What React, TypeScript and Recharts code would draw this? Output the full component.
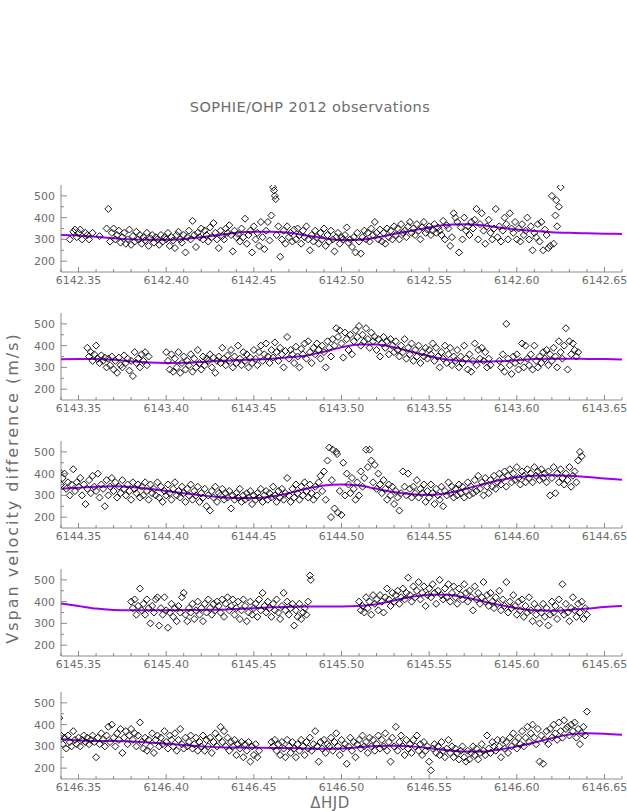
import React from "react";
import { ComposedChart, Scatter, Line, XAxis, YAxis } from "recharts";

const FONT = "'DejaVu Sans', sans-serif";
const GREY = "#6e6e6e";
const PURPLE = "#9a00f2";

// nights (integer part of HJD - 2450000)
const nights = [6142, 6143, 6144, 6145, 6146];

// observations: [thousandths of a day after the night's integer HJD, Vspan (m/s)]
const obs6142 = [[345,300],[347,335],[348,345],[349,310],[350,330],[351,345],[352,300],[354,330],[355,320],[356,300],[358,330],[362,315],[366,350],[367,440],[368,290],[369,330],[370,350],[371,300],[372,320],[373,340],[374,285],[375,310],[376,330],[377,280],[378,300],[379,345],[380,275],[381,315],[382,290],[383,335],[384,300],[385,320],[386,280],[387,310],[388,295],[389,330],[390,270],[391,305],[392,320],[393,285],[394,310],[395,300],[396,275],[397,320],[398,290],[399,310],[400,300],[401,330],[402,270],[403,310],[404,295],[405,260],[406,320],[407,335],[408,300],[409,285],[410,320],[411,240],[412,310],[413,340],[414,300],[415,385],[416,320],[417,265],[418,330],[419,310],[420,350],[421,300],[422,340],[423,320],[424,290],[425,355],[426,310],[427,375],[428,330],[429,300],[430,260],[431,340],[432,315],[433,300],[434,350],[435,330],[436,365],[437,320],[438,245],[439,340],[440,310],[441,325],[442,290],[443,350],[444,310],[445,395],[446,280],[447,320],[448,340],[449,240],[450,360],[451,300],[452,330],[453,270],[454,380],[455,310],[456,255],[457,340],[458,380],[459,295],[460,410],[461,540],[461.5,525],[462,500],[462.5,485],[463,320],[464,360],[465,220],[466,300],[467,340],[468,280],[469,360],[470,310],[471,330],[472,290],[473,345],[474,300],[475,350],[476,320],[477,280],[478,340],[479,310],[480,360],[481,300],[482,250],[483,320],[484,290],[485,340],[486,310],[487,280],[488,330],[489,300],[490,350],[491,270],[492,320],[493,290],[494,340],[495,300],[496,245],[497,310],[498,330],[499,280],[500,310],[501,300],[502,320],[503,355],[504,285],[505,300],[506,265],[507,310],[508,240],[509,330],[510,290],[511,235],[512,310],[513,340],[514,300],[515,330],[516,290],[517,350],[518,320],[519,380],[520,330],[521,300],[522,345],[523,290],[524,330],[525,280],[526,350],[527,310],[528,340],[529,300],[530,360],[531,320],[532,350],[533,300],[534,370],[535,330],[536,340],[537,310],[538,360],[539,380],[540,330],[541,350],[542,320],[543,370],[544,340],[545,300],[546,355],[547,380],[548,330],[549,345],[550,360],[551,320],[552,340],[553,370],[554,330],[555,355],[556,340],[557,320],[558,385],[559,300],[560,365],[561,350],[562,270],[563,310],[564,420],[565,400],[566,380],[567,240],[568,355],[569,300],[570,400],[571,340],[572,360],[573,320],[574,380],[575,350],[576,390],[577,440],[578,300],[579,370],[580,420],[581,340],[582,280],[583,360],[584,390],[585,330],[586,300],[587,350],[588,440],[589,310],[590,360],[591,290],[592,340],[593,400],[594,370],[595,300],[596,420],[597,350],[598,330],[599,380],[600,300],[601,350],[602,290],[603,370],[604,320],[605,340],[606,400],[607,300],[608,360],[609,250],[610,330],[611,310],[612,370],[613,290],[614,380],[615,250],[616,345],[617,320],[618,260],[619,270],[620,500],[621,280],[622,410],[622.5,480],[623,360],[624,450],[625,540]];

const obs6143 = [[355,390],[356,350],[357,370],[358,330],[359,360],[360,400],[361,340],[362,320],[363,355],[364,330],[365,345],[366,300],[367,340],[368,310],[369,350],[370,290],[371,330],[372,275],[373,345],[374,310],[375,300],[376,355],[377,320],[378,340],[379,285],[380,330],[381,260],[382,370],[383,320],[384,340],[385,300],[386,360],[387,330],[388,370],[389,310],[390,350],[400,370],[401,330],[402,290],[403,360],[404,280],[405,340],[406,300],[407,370],[408,275],[409,320],[410,350],[411,290],[412,330],[413,310],[414,360],[415,280],[416,340],[417,300],[418,380],[419,320],[420,290],[421,350],[422,310],[423,340],[424,330],[425,360],[426,300],[427,345],[428,275],[429,330],[430,350],[431,320],[432,390],[433,340],[434,310],[435,355],[436,330],[437,380],[438,300],[439,350],[440,320],[441,400],[442,340],[443,310],[444,370],[445,330],[446,360],[447,300],[448,345],[449,320],[450,380],[451,340],[452,310],[453,370],[454,400],[455,330],[456,360],[457,410],[458,350],[459,320],[460,380],[461,345],[462,415],[463,370],[464,330],[465,390],[466,360],[467,300],[468,375],[469,440],[470,340],[471,380],[472,360],[473,320],[474,395],[475,350],[476,300],[477,385],[478,360],[479,410],[480,340],[481,420],[482,370],[483,320],[484,390],[485,360],[486,410],[487,380],[488,340],[489,400],[490,370],[491,300],[492,420],[493,390],[494,350],[495,430],[496,400],[497,480],[498,440],[499,470],[500,410],[501,345],[502,460],[503,430],[504,380],[505,450],[506,360],[507,420],[508,470],[509,440],[510,490],[511,400],[512,450],[513,420],[514,480],[515,430],[516,390],[517,460],[518,420],[519,440],[520,380],[521,430],[522,350],[523,410],[524,440],[525,390],[526,420],[527,360],[528,430],[529,400],[530,370],[531,420],[532,380],[533,350],[534,400],[535,370],[536,430],[537,340],[538,390],[539,360],[540,410],[541,330],[542,380],[543,350],[544,400],[545,320],[546,370],[547,350],[548,390],[549,340],[550,380],[551,360],[552,410],[553,330],[554,390],[555,350],[556,300],[557,370],[558,340],[559,400],[560,320],[561,360],[562,390],[563,310],[564,350],[565,330],[566,380],[567,300],[568,350],[569,320],[570,400],[571,340],[572,290],[573,360],[574,280],[575,330],[576,410],[577,310],[578,380],[579,340],[580,390],[581,330],[582,370],[583,300],[584,340],[585,310],[590,330],[591,300],[592,360],[593,280],[594,500],[595,340],[596,310],[597,270],[598,350],[599,320],[600,360],[601,290],[602,330],[603,410],[604,300],[605,400],[606,340],[607,310],[608,360],[609,290],[610,400],[611,330],[612,300],[613,350],[614,320],[615,370],[616,340],[617,380],[618,310],[619,360],[620,330],[621,390],[622,350],[623,300],[624,420],[625,370],[626,340],[627,400],[628,480],[629,290],[630,420],[631,360],[632,410],[633,380],[634,350],[635,370]];

const obs6144 = [[337,390],[338,360],[339,410],[340,350],[341,380],[342,400],[343,330],[344,360],[345,300],[346,350],[347,420],[348,320],[349,360],[350,340],[351,380],[352,300],[353,350],[354,260],[355,330],[356,370],[357,310],[358,390],[359,340],[360,320],[361,400],[362,290],[363,350],[364,330],[365,250],[366,370],[367,300],[368,340],[369,380],[370,320],[371,360],[372,290],[373,340],[374,310],[375,370],[376,330],[377,300],[378,350],[379,320],[380,280],[381,360],[382,330],[383,310],[384,350],[385,290],[386,340],[387,300],[388,360],[389,320],[390,280],[391,350],[392,310],[393,330],[394,300],[395,360],[396,290],[397,340],[398,270],[399,320],[400,300],[401,350],[402,310],[403,280],[404,330],[405,360],[406,300],[407,320],[408,290],[409,340],[410,310],[411,270],[412,330],[413,300],[414,350],[415,280],[416,320],[417,300],[418,340],[419,270],[420,310],[421,290],[422,330],[423,250],[424,300],[425,230],[426,320],[427,290],[428,340],[429,270],[430,310],[431,300],[432,330],[433,280],[434,310],[435,290],[436,320],[437,240],[438,300],[439,280],[440,310],[441,290],[442,330],[443,270],[444,300],[445,280],[446,310],[447,290],[448,320],[449,260],[450,300],[451,280],[452,310],[453,290],[454,330],[455,270],[456,300],[457,320],[458,280],[459,310],[460,290],[461,340],[462,300],[463,270],[464,320],[465,290],[466,330],[467,280],[468,310],[469,380],[470,300],[471,270],[472,330],[473,290],[474,350],[475,310],[476,280],[477,340],[478,300],[479,360],[480,320],[481,290],[482,350],[483,310],[484,280],[485,340],[486,300],[487,360],[488,390],[489,320],[490,410],[491,280],[492,460],[493,520],[494,200],[494.5,370],[495,510],[496,240],[497,500],[497.5,490],[498,220],[499,320],[500,210],[501,450],[502,300],[503,400],[504,350],[505,310],[506,380],[507,330],[508,280],[509,360],[510,300],[511,410],[512,340],[513,380],[514,510],[515,430],[516,510],[517,460],[518,360],[519,440],[520,330],[521,400],[522,350],[523,310],[524,370],[525,330],[526,280],[527,350],[528,300],[529,340],[530,260],[531,320],[532,290],[533,230],[534,310],[535,410],[536,340],[537,300],[538,400],[539,330],[540,290],[541,340],[542,310],[543,370],[544,290],[545,330],[546,310],[547,350],[548,270],[549,320],[550,290],[551,350],[552,310],[553,260],[554,330],[555,300],[556,280],[557,340],[558,250],[559,320],[560,300],[561,360],[562,310],[563,340],[564,290],[565,330],[566,300],[567,350],[568,310],[569,340],[570,290],[571,320],[572,360],[573,300],[574,340],[575,310],[576,370],[577,320],[578,390],[579,330],[580,360],[581,300],[582,380],[583,340],[584,310],[585,370],[586,340],[587,390],[588,330],[589,360],[590,400],[591,350],[592,380],[593,410],[594,340],[595,390],[596,420],[597,360],[598,400],[599,370],[600,430],[601,380],[602,350],[603,410],[604,390],[605,360],[606,420],[607,380],[608,400],[609,360],[610,430],[611,390],[612,410],[613,370],[614,420],[615,380],[616,400],[617,360],[618,410],[619,300],[620,380],[621,430],[622,310],[623,400],[624,360],[625,420],[626,380],[627,350],[628,400],[629,370],[630,430],[631,340],[632,390],[633,410],[634,360],[635,460],[636,500],[637,480]];

const obs6145 = [[380,400],[381,370],[382,410],[383,340],[384,380],[385,460],[386,360],[387,390],[388,340],[389,410],[390,370],[391,300],[392,380],[393,350],[394,410],[395,420],[396,290],[397,370],[398,340],[399,420],[400,360],[401,280],[402,350],[403,390],[404,330],[405,370],[406,310],[407,380],[408,350],[409,420],[410,440],[411,340],[412,310],[413,370],[414,350],[415,390],[416,320],[417,360],[418,400],[419,340],[420,370],[421,310],[422,390],[423,350],[424,410],[425,370],[426,340],[427,390],[428,360],[429,400],[430,380],[431,350],[432,410],[433,330],[434,390],[435,420],[436,360],[437,380],[438,410],[439,340],[440,370],[441,400],[442,320],[443,360],[444,410],[445,380],[446,310],[447,350],[448,400],[449,340],[450,370],[451,390],[452,330],[453,410],[454,360],[455,440],[456,380],[457,350],[458,400],[459,370],[460,330],[461,390],[462,360],[463,410],[464,350],[465,320],[466,380],[467,440],[468,360],[469,400],[470,340],[471,370],[472,390],[473,290],[474,360],[475,330],[476,390],[477,320],[478,350],[479,370],[480,340],[481,400],[482,520],[482.5,500],[510,400],[511,360],[512,380],[513,350],[514,420],[515,370],[516,400],[517,340],[518,430],[519,390],[520,410],[521,360],[522,430],[523,400],[524,350],[525,420],[526,460],[527,410],[528,380],[529,440],[530,400],[531,430],[532,450],[533,390],[534,420],[535,460],[536,410],[537,440],[538,510],[539,430],[540,400],[541,470],[542,420],[543,450],[544,490],[545,410],[546,440],[547,470],[548,380],[549,430],[550,460],[551,420],[552,480],[553,440],[554,390],[555,450],[556,500],[557,430],[558,410],[559,460],[560,420],[561,480],[562,400],[563,440],[564,470],[565,420],[566,390],[567,460],[568,430],[569,410],[570,480],[571,440],[572,400],[573,450],[574,420],[575,360],[576,470],[577,410],[578,440],[579,390],[580,420],[581,490],[582,400],[583,430],[584,380],[585,440],[586,400],[587,370],[588,420],[589,390],[590,450],[591,360],[592,410],[593,380],[594,490],[595,350],[596,400],[597,370],[598,430],[599,380],[600,340],[601,400],[602,360],[603,410],[604,330],[605,380],[606,350],[607,420],[608,360],[609,310],[610,390],[611,340],[612,370],[613,300],[614,350],[615,390],[616,330],[617,370],[618,290],[619,340],[620,400],[621,350],[622,380],[623,320],[624,410],[625,360],[626,480],[627,340],[628,390],[629,350],[630,310],[631,370],[632,420],[633,360],[634,330],[635,390],[636,350],[637,400],[638,320],[639,370],[640,340]];

const obs6146 = [[337,300],[338,330],[339,430],[340,350],[341,310],[342,340],[343,290],[344,350],[345,320],[346,300],[347,370],[348,330],[349,310],[350,340],[351,300],[352,330],[353,350],[354,320],[355,340],[356,310],[357,330],[358,350],[359,320],[360,250],[361,340],[362,310],[363,360],[364,330],[365,300],[366,350],[367,390],[368,320],[369,400],[370,340],[371,300],[372,360],[373,330],[374,380],[375,270],[376,340],[377,370],[378,310],[379,350],[380,380],[381,330],[382,360],[383,300],[384,350],[385,410],[386,320],[387,290],[388,340],[389,280],[390,330],[391,300],[392,360],[393,270],[394,330],[395,350],[396,300],[397,340],[398,310],[399,370],[400,320],[401,290],[402,350],[403,330],[404,300],[405,360],[406,280],[407,330],[408,380],[409,310],[410,290],[411,340],[412,300],[413,320],[414,350],[415,290],[416,310],[417,340],[418,280],[419,320],[420,300],[421,350],[422,280],[423,330],[424,300],[425,340],[426,270],[427,320],[428,360],[429,300],[430,340],[431,390],[432,320],[433,370],[434,300],[435,340],[436,280],[437,320],[438,300],[439,330],[440,260],[441,310],[442,290],[443,320],[444,250],[445,310],[446,280],[447,320],[448,230],[449,300],[450,260],[451,310],[452,250],[453,280],[460,320],[461,300],[462,330],[463,280],[464,310],[465,260],[466,320],[467,290],[468,250],[469,330],[470,300],[471,270],[472,320],[473,290],[474,250],[475,310],[476,280],[477,330],[478,300],[479,260],[480,320],[481,290],[482,340],[483,280],[484,310],[485,370],[486,300],[487,230],[488,320],[489,290],[490,330],[491,270],[492,310],[493,300],[494,340],[495,280],[496,320],[497,360],[498,300],[499,260],[500,330],[501,290],[502,310],[503,220],[504,300],[505,340],[506,280],[507,320],[508,250],[509,310],[510,330],[511,290],[512,350],[513,300],[514,320],[515,270],[516,340],[517,300],[518,330],[519,280],[520,310],[521,350],[522,290],[523,330],[524,300],[525,360],[526,280],[527,320],[528,230],[529,340],[530,300],[531,390],[532,280],[533,320],[534,350],[535,300],[536,260],[537,330],[538,290],[539,310],[540,270],[541,330],[542,300],[543,350],[544,280],[545,310],[546,260],[547,320],[548,280],[549,300],[550,230],[551,190],[552,290],[553,310],[554,270],[555,300],[556,260],[557,320],[558,280],[559,250],[560,290],[561,330],[562,270],[563,300],[564,250],[565,290],[566,270],[567,240],[568,280],[569,300],[570,250],[571,230],[572,280],[573,240],[574,270],[575,300],[576,260],[577,290],[578,240],[579,270],[580,310],[581,280],[582,260],[583,350],[584,290],[585,270],[586,320],[587,300],[588,280],[589,330],[590,300],[591,250],[592,330],[593,290],[594,320],[595,270],[596,340],[597,300],[598,360],[599,320],[600,290],[601,340],[602,310],[603,370],[604,300],[605,340],[606,390],[607,320],[608,360],[609,400],[610,340],[611,310],[612,380],[613,230],[614,350],[615,220],[616,330],[617,370],[618,310],[619,380],[620,340],[621,400],[622,360],[623,330],[624,410],[625,370],[626,340],[627,420],[628,380],[629,390],[630,350],[631,400],[632,370],[633,410],[634,340],[635,380],[636,310],[637,360],[638,390],[639,350],[640,460]];

// fitted model curves: [thousandths of a day, Vspan]
const fit6142 = [[340,320],[350,318],[360,312],[370,305],[380,300],[390,298],[400,298],[410,302],[420,310],[430,320],[440,330],[450,335],[460,335],[470,330],[480,318],[490,305],[500,297],[510,298],[520,308],[530,325],[540,340],[550,355],[560,367],[570,370],[580,365],[590,355],[600,345],[610,338],[620,333],[630,330],[640,328],[650,326],[660,325]];
const fit6143 = [[340,337],[350,338],[360,338],[370,335],[380,328],[390,322],[400,320],[410,321],[420,325],[430,330],[440,333],[450,336],[460,340],[470,346],[480,355],[490,372],[500,392],[510,405],[520,405],[530,392],[540,372],[550,352],[560,336],[570,328],[580,326],[590,328],[600,333],[610,338],[620,340],[630,340],[640,339],[650,338],[660,336]];
const fit6144 = [[340,330],[350,335],[360,340],[370,342],[380,338],[390,330],[400,320],[410,310],[420,300],[430,292],[440,288],[450,288],[460,295],[470,310],[480,330],[490,345],[500,350],[510,345],[520,330],[530,315],[540,305],[550,302],[560,310],[570,328],[580,350],[590,370],[600,383],[610,390],[620,392],[630,390],[640,385],[650,378],[660,372]];
const fit6145 = [[340,392],[350,380],[360,368],[370,362],[380,360],[390,360],[400,360],[410,361],[420,362],[430,363],[440,366],[450,370],[460,374],[470,377],[480,378],[490,378],[500,378],[510,380],[520,388],[530,405],[540,422],[550,432],[560,432],[570,420],[580,403],[590,385],[600,370],[610,360],[620,358],[630,362],[640,368],[650,375],[660,380]];
const fit6146 = [[340,333],[350,328],[360,325],[370,325],[380,322],[390,318],[400,312],[410,306],[420,300],[430,296],[440,295],[450,294],[460,293],[470,292],[480,290],[490,289],[500,290],[510,296],[520,302],[530,303],[540,300],[550,292],[560,282],[570,276],[580,276],[590,285],[600,300],[610,318],[620,338],[630,354],[640,360],[650,358],[660,353]];

const observations = [obs6142, obs6143, obs6144, obs6145, obs6146];
const fits = [fit6142, fit6143, fit6144, fit6145, fit6146];

const yTicks = [200, 250, 300, 350, 400, 450, 500];
const xTicks = Array.from({ length: 33 }, (_, i) => (340 + i * 10) / 1000);

const panelTops = [185, 313, 441, 569, 692];

const isMajorX = (v: number) => Math.round(v * 100) % 5 === 0;
const isMajorY = (v: number) => v % 100 === 0;

const Diamond = (props: any) => {
  const { cx, cy } = props;
  if (cx == null || cy == null) return null;
  const r = 3.5;
  return (
    <path
      d={`M${cx},${cy - r}L${cx + r},${cy}L${cx},${cy + r}L${cx - r},${cy}Z`}
      fill="none"
      stroke="#000"
      strokeWidth={0.9}
    />
  );
};

const makeXTick = (night: number, top: boolean) => (props: any) => {
  const { x, y, payload } = props;
  const v = payload.value;
  const major = isMajorX(v);
  const len = major ? 5 : 3;
  return (
    <g>
      <line x1={x} x2={x} y1={y} y2={top ? y + len : y - len} stroke={GREY} strokeWidth={0.8} />
      {!top && major && (
        <text x={x} y={y + 12} textAnchor="middle" fontSize={11} fill={GREY} fontFamily={FONT}>
          {(night + v).toFixed(2)}
        </text>
      )}
    </g>
  );
};

const makeYTick = (right: boolean) => (props: any) => {
  const { x, y, payload } = props;
  const v = payload.value;
  const major = isMajorY(v);
  const len = major ? 6 : 3;
  return (
    <g>
      <line x1={x} x2={right ? x - len : x + len} y1={y} y2={y} stroke={GREY} strokeWidth={0.8} />
      {!right && major && (
        <text x={x - 6} y={y + 4} textAnchor="end" fontSize={11} fill={GREY} fontFamily={FONT}>
          {v}
        </text>
      )}
    </g>
  );
};

const Panel = ({ idx }: { idx: number }) => {
  const night = nights[idx];
  const pts = observations[idx].map(([t, v]) => ({ x: t / 1000, y: v }));
  const curve = fits[idx].map(([t, v]) => ({ x: t / 1000, y: v }));
  const axisLine = { stroke: GREY, strokeWidth: 0.8 };
  return (
    <div style={{ position: "absolute", left: 0, top: panelTops[idx] - 5 }}>
      <ComposedChart width={627} height={112} margin={{ top: 5, right: 5, bottom: 0, left: 0 }}>
        <XAxis
          xAxisId="b"
          dataKey="x"
          type="number"
          domain={[0.34, 0.66]}
          allowDataOverflow
          ticks={xTicks}
          interval={0}
          tickSize={0}
          tickMargin={0}
          tickLine={false}
          axisLine={axisLine}
          tick={makeXTick(night, false)}
          height={20}
        />
        <XAxis
          xAxisId="t"
          orientation="top"
          dataKey="x"
          type="number"
          domain={[0.34, 0.66]}
          allowDataOverflow
          ticks={xTicks}
          interval={0}
          tickSize={0}
          tickMargin={0}
          tickLine={false}
          axisLine={axisLine}
          tick={makeXTick(night, true)}
          height={0}
        />
        <YAxis
          yAxisId="l"
          dataKey="y"
          type="number"
          domain={[150, 550]}
          allowDataOverflow
          ticks={yTicks}
          interval={0}
          tickSize={0}
          tickMargin={0}
          tickLine={false}
          axisLine={axisLine}
          tick={makeYTick(false)}
          width={61}
        />
        <YAxis
          yAxisId="r"
          orientation="right"
          dataKey="y"
          type="number"
          domain={[150, 550]}
          allowDataOverflow
          ticks={yTicks}
          interval={0}
          tickSize={0}
          tickMargin={0}
          tickLine={false}
          axisLine={axisLine}
          tick={makeYTick(true)}
          width={0}
        />
        <Scatter
          xAxisId="b"
          yAxisId="l"
          data={pts}
          dataKey="y"
          shape={Diamond}
          isAnimationActive={false}
        />
        <Line
          xAxisId="b"
          yAxisId="l"
          data={curve}
          dataKey="y"
          type="monotone"
          dot={false}
          stroke={PURPLE}
          strokeWidth={2}
          isAnimationActive={false}
        />
      </ComposedChart>
    </div>
  );
};

export default function App() {
  return (
    <div
      style={{
        position: "absolute",
        left: 0,
        top: 0,
        width: 627,
        height: 811,
        background: "#fff",
        fontFamily: FONT,
        color: GREY,
        overflow: "hidden",
      }}
    >
      <div
        style={{
          position: "absolute",
          left: 0,
          width: 620,
          top: 99,
          textAlign: "center",
          fontSize: 14.5,
          letterSpacing: 0.4,
          whiteSpace: "nowrap",
        }}
      >
        SOPHIE/OHP 2012 observations
      </div>
      <div
        style={{
          position: "absolute",
          left: 12,
          top: 488,
          transform: "translate(-50%, -50%) rotate(-90deg)",
          fontSize: 16,
          letterSpacing: 2,
          whiteSpace: "nowrap",
        }}
      >
        Vspan velocity difference (m/s)
      </div>
      <div
        style={{
          position: "absolute",
          left: 330,
          top: 803,
          transform: "translate(-50%, -50%)",
          fontSize: 15,
          letterSpacing: 0.5,
          lineHeight: "15px",
          whiteSpace: "nowrap",
        }}
      >
        ΔHJD
      </div>
      {nights.map((_, i) => (
        <Panel key={i} idx={i} />
      ))}
    </div>
  );
}
